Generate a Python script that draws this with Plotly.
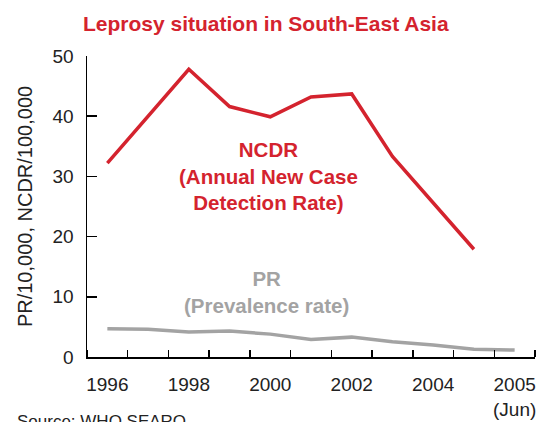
import plotly.graph_objects as go

# ---- data ----
periods = ["1996", "1997", "1998", "1999", "2000", "2001", "2002",
           "2003", "2004", "2005", "2005 (Jun)"]
ncdr = [32.2, 40.0, 47.8, 41.6, 39.9, 43.2, 43.7, 33.3, 25.5, 17.9]
pr = [4.7, 4.6, 4.15, 4.3, 3.8, 2.9, 3.3, 2.55, 2.0, 1.27, 1.15]
tick_labels = ["1996", "1998", "2000", "2002", "2004", "2005<br>(Jun)"]
tick_index = [0, 2, 4, 6, 8, 10]

RED = "#d4232e"
GRAY = "#a3a3a3"
FONT = "Liberation Sans, Arial, sans-serif"

x_all = list(range(len(periods)))
fig = go.Figure()
fig.add_trace(go.Scatter(x=x_all[:len(ncdr)], y=ncdr, mode="lines",
                         line=dict(color=RED, width=3.5), hoverinfo="skip",
                         showlegend=False))
fig.add_trace(go.Scatter(x=x_all[:len(pr)], y=pr, mode="lines",
                         line=dict(color=GRAY, width=3.5), hoverinfo="skip",
                         showlegend=False))

boundaries = [i - 0.5 for i in range(len(periods) + 1)]

fig.update_layout(
    width=539, height=422,
    margin=dict(l=87, r=4, t=56, b=65),
    paper_bgcolor="white", plot_bgcolor="white",
    font=dict(family=FONT, size=19, color="#222222"),
    title=dict(text="<b>Leprosy situation in South-East Asia</b>",
               font=dict(family=FONT, size=21, color=RED),
               x=83/539, xanchor="left", y=1 - 24/422, yanchor="middle"),
    xaxis=dict(range=[-0.5, len(periods) - 0.5], automargin=False,
               tickvals=tick_index, ticktext=tick_labels,
               ticks="", showgrid=False, zeroline=False,
               showline=True, linecolor="black", linewidth=1.5,
               ticklabelstandoff=10,
               tickfont=dict(size=19, color="#222222"),
               minor=dict(tickvals=boundaries, ticks="inside", ticklen=7,
                          tickcolor="black", tickwidth=1.5, showgrid=False)),
    yaxis=dict(range=[0, 50], tickvals=[0, 10, 20, 30, 40, 50],
               automargin=False,
               ticks="inside", ticklen=10, tickcolor="black", tickwidth=1.5,
               showgrid=False, zeroline=False,
               showline=True, linecolor="black", linewidth=1.5,
               ticklabelstandoff=8,
               tickfont=dict(size=19, color="#222222"),
               title=dict(text="PR/10,000, NCDR/100,000",
                          font=dict(size=20, color="#222222"), standoff=14)),
)

fig.add_annotation(x=3.95, y=30.0, xref="x", yref="y",
                   text="<b>NCDR<br>(Annual New Case<br>Detection Rate)</b>",
                   showarrow=False, align="center",
                   font=dict(family=FONT, size=20.5, color=RED))
fig.add_annotation(x=3.9, y=10.8, xref="x", yref="y",
                   text="<b>PR<br>(Prevalence rate)</b>",
                   showarrow=False, align="center",
                   font=dict(family=FONT, size=20.5, color=GRAY))
fig.add_annotation(x=(15 - 87) / 448, y=(357 - 410) / 301,
                   xref="paper", yref="paper", xanchor="left", yanchor="top",
                   text="Source: WHO SEARO", showarrow=False,
                   font=dict(family=FONT, size=17, color="#222222"))

fig.write_html("out.html",
               config={"displayModeBar": False, "staticPlot": True},
               post_script="document.body.style.margin='0';"
                           "document.body.style.overflow='hidden';")
